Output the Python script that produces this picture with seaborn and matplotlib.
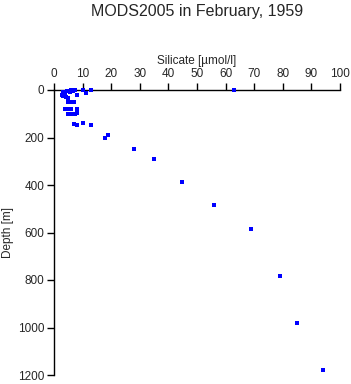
import matplotlib
matplotlib.use("Agg")
import matplotlib.pyplot as plt
import seaborn as sns
import pandas as pd

silicate = [62.8, 13.1, 10.0, 11.1, 3.0, 3.5, 4.0, 2.8, 3.2, 4.5, 5.0, 5.5, 6.0, 6.5, 7.2,
            4.2, 5.0, 8.1, 4.8, 5.5, 6.2, 7.0, 3.8, 4.5, 5.2, 6.0, 8.1,
            5.0, 5.8, 6.5, 7.3, 8.1, 6.9, 8.1, 10.0, 12.9, 18.0, 19.0,
            28.1, 35.1, 44.9, 56.0, 69.0, 79.0, 84.9, 93.9]
depth = [0, 1, 2, 14, 10, 15, 20, 22, 25, 5, 3, 8, 2, 4, 1,
         30, 32, 21, 50, 50, 50, 50, 78, 78, 78, 78, 78,
         100, 100, 100, 100, 96, 143, 147, 137, 147, 203, 191,
         250, 290, 389, 486, 584, 782, 980, 1179]
xticks = [0, 10, 20, 30, 40, 50, 60, 70, 80, 90, 100]
yticks = [0, 200, 400, 600, 800, 1000, 1200]

df = pd.DataFrame({"silicate": silicate, "depth": depth})

sns.set_style("ticks")
plt.rcParams["font.family"] = ["Liberation Sans", "DejaVu Sans"]

fig = plt.figure(figsize=(3.51, 3.84), dpi=100)
ax = fig.add_axes([54 / 351, 1 - 375 / 384, 286 / 351, 285 / 384])

sns.scatterplot(df, x="silicate", y="depth", ax=ax, color="#0000ff", marker="s",
                s=6, linewidth=0, legend=False, zorder=5, clip_on=False)

ax.set_xlim(0, 100)
ax.set_ylim(1200, 0)
ax.set_xticks(xticks)
ax.set_yticks(yticks)
ax.xaxis.tick_top()
ax.xaxis.set_label_position("top")
for side in ["right", "bottom"]:
    ax.spines[side].set_visible(False)
for side in ["left", "top"]:
    ax.spines[side].set_color("black")
    ax.spines[side].set_linewidth(1)
ax.tick_params(axis="both", length=5, width=1, color="black", labelsize=8.5, pad=2)
ax.set_xlabel("Silicate [µmol/l]", fontsize=8.5, labelpad=3)
ax.set_ylabel("Depth [m]", fontsize=8.5)
ax.yaxis.set_label_coords(-0.14, 0.5)

fig.suptitle("MODS2005 in February, 1959", fontsize=11.5, x=197 / 351, y=1 - 4 / 384, va="top")

fig.savefig("out.png", dpi=100)
